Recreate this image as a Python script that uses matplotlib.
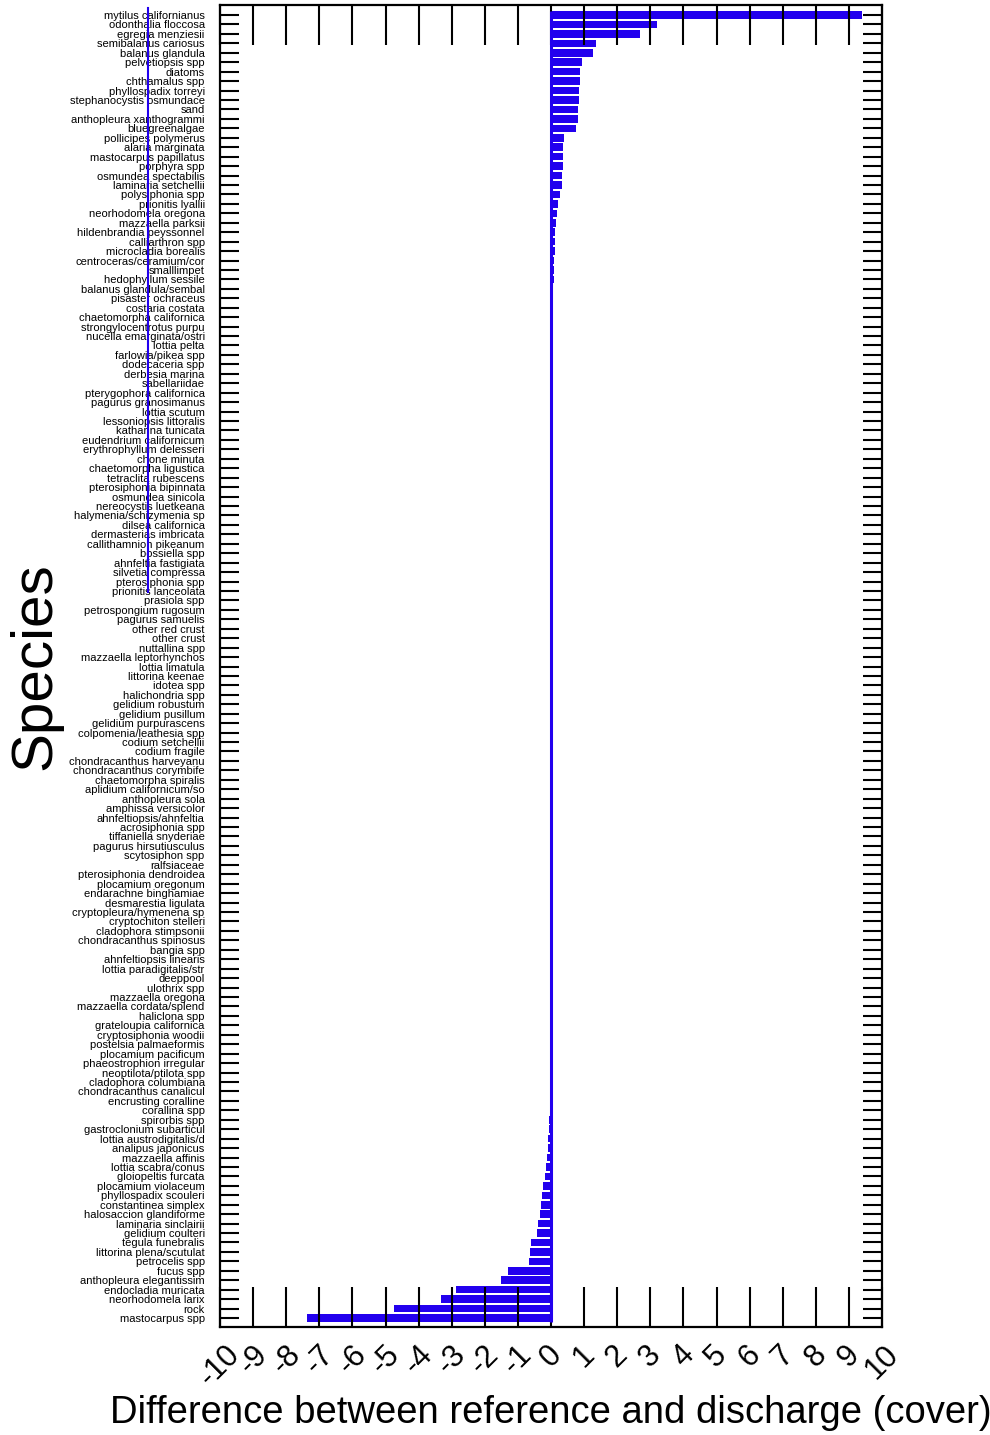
import numpy as np
import matplotlib
matplotlib.use("Agg")
import matplotlib.pyplot as plt
from matplotlib.lines import Line2D

species = [
    "mytilus californianus", "odonthalia floccosa", "egregia menziesii", "semibalanus cariosus",
    "balanus glandula", "pelvetiopsis spp", "diatoms", "chthamalus spp", "phyllospadix torreyi",
    "stephanocystis osmundace", "sand", "anthopleura xanthogrammi", "bluegreenalgae",
    "pollicipes polymerus", "alaria marginata", "mastocarpus papillatus", "porphyra spp",
    "osmundea spectabilis", "laminaria setchellii", "polysiphonia spp", "prionitis lyallii",
    "neorhodomela oregona", "mazzaella parksii", "hildenbrandia peyssonnel", "calliarthron spp",
    "microcladia borealis", "centroceras/ceramium/cor", "smalllimpet", "hedophyllum sessile",
    "balanus glandula/sembal", "pisaster ochraceus", "costaria costata", "chaetomorpha californica",
    "strongylocentrotus purpu", "nucella emarginata/ostri", "lottia pelta", "farlowia/pikea spp",
    "dodecaceria spp", "derbesia marina", "sabellariidae", "pterygophora californica",
    "pagurus granosimanus", "lottia scutum", "lessoniopsis littoralis", "katharina tunicata",
    "eudendrium californicum", "erythrophyllum delesseri", "chone minuta", "chaetomorpha ligustica",
    "tetraclita rubescens", "pterosiphonia bipinnata", "osmundea sinicola", "nereocystis luetkeana",
    "halymenia/schizymenia sp", "dilsea californica", "dermasterias imbricata",
    "callithamnion pikeanum", "bossiella spp", "ahnfeltia fastigiata", "silvetia compressa",
    "pterosiphonia spp", "prionitis lanceolata", "prasiola spp", "petrospongium rugosum",
    "pagurus samuelis", "other red crust", "other crust", "nuttallina spp",
    "mazzaella leptorhynchos", "lottia limatula", "littorina keenae", "idotea spp",
    "halichondria spp", "gelidium robustum", "gelidium pusillum", "gelidium purpurascens",
    "colpomenia/leathesia spp", "codium setchellii", "codium fragile", "chondracanthus harveyanu",
    "chondracanthus corymbife", "chaetomorpha spiralis", "aplidium californicum/so",
    "anthopleura sola", "amphissa versicolor", "ahnfeltiopsis/ahnfeltia", "acrosiphonia spp",
    "tiffaniella snyderiae", "pagurus hirsutiusculus", "scytosiphon spp", "ralfsiaceae",
    "pterosiphonia dendroidea", "plocamium oregonum", "endarachne binghamiae",
    "desmarestia ligulata", "cryptopleura/hymenena sp", "cryptochiton stelleri",
    "cladophora stimpsonii", "chondracanthus spinosus", "bangia spp", "ahnfeltiopsis linearis",
    "lottia paradigitalis/str", "deeppool", "ulothrix spp", "mazzaella oregona",
    "mazzaella cordata/splend", "haliclona spp", "grateloupia californica",
    "cryptosiphonia woodii", "postelsia palmaeformis", "plocamium pacificum",
    "phaeostrophion irregular", "neoptilota/ptilota spp", "cladophora columbiana",
    "chondracanthus canalicul", "encrusting coralline", "corallina spp", "spirorbis spp",
    "gastroclonium subarticul", "lottia austrodigitalis/d", "analipus japonicus",
    "mazzaella affinis", "lottia scabra/conus", "gloiopeltis furcata", "plocamium violaceum",
    "phyllospadix scouleri", "constantinea simplex", "halosaccion glandiforme",
    "laminaria sinclairii", "gelidium coulteri", "tegula funebralis", "littorina plena/scutulat",
    "petrocelis spp", "fucus spp", "anthopleura elegantissim", "endocladia muricata",
    "neorhodomela larix", "rock", "mastocarpus spp",
]

difference = [
    9.4, 3.2, 2.7, 1.35, 1.27, 0.94, 0.88, 0.87, 0.85, 0.84,
    0.82, 0.82, 0.75, 0.40, 0.37, 0.36, 0.35, 0.34, 0.33, 0.27,
    0.21, 0.18, 0.15, 0.13, 0.12, 0.11, 0.10, 0.09, 0.08, 0.07,
    0.07, 0.06, 0.06, 0.05, 0.05, 0.04, 0.04, 0.04, 0.03, 0.03,
    0.03, 0.03, 0.03, 0.02, 0.02, 0.02, 0.02, 0.02, 0.02, 0.02,
    0.02, 0.015, 0.015, 0.015, 0.015, 0.015, 0.01, 0.01, 0.01, 0.01,
    0.01, 0.01, 0.01, 0.01, 0.01, 0.01, 0.01, 0.01, 0.01, 0.01,
    0.01, 0.01, 0.008, 0.008, 0.008, 0.008, 0.008, 0.008, 0.006, 0.006,
    0.006, 0.006, 0.005, 0.005, 0.005, 0.005, 0.004, 0.004, 0.004, 0.004,
    0.003, 0.003, 0.003, 0.003, 0.002, 0.002, 0.002, 0.002, 0.001, 0.001,
    0.001, 0.0, 0.0, -0.001, -0.002,
    -0.003, -0.004, -0.005, -0.006, -0.008, -0.01, -0.012, -0.015, -0.02, -0.025,
    -0.03, -0.04, -0.05, -0.06, -0.08, -0.1, -0.12, -0.14,
    -0.18, -0.24, -0.27, -0.3, -0.33, -0.39, -0.42, -0.6,
    -0.63, -0.66, -1.3, -1.51, -2.87, -3.32, -4.74, -7.37,
]

xticks = list(range(-10, 11))
xticklabels = [str(t) for t in xticks]

BLUE = "#2200ee"


def plot(names, values):
    plt.rcParams['font.family'] = ['Liberation Sans', 'DejaVu Sans']
    fig = plt.figure(figsize=(9.9, 14.35), dpi=100)
    ax = fig.add_axes([220/990, 1 - 1327/1435, 662/990, 1322/1435])

    y = np.arange(len(names))
    ax.barh(y, values, height=0.8, color=BLUE, linewidth=0)
    ax.vlines(0, -0.4, len(names) - 0.6, color=BLUE, linewidth=2.2)

    ax.set_xlim(-10, 10)
    ax.set_ylim(len(names) - 1 + 0.95, -1.06)

    ax.set_xticks(xticks)
    ax.set_xticklabels(xticklabels, rotation=45, ha='center', va='top',
                       rotation_mode='default', fontsize=22)
    ax.set_yticks(y)
    ax.set_yticklabels(names, fontsize=8)

    ax.tick_params(axis='x', direction='in', top=True, bottom=True,
                   length=29, width=1.5, pad=9)
    ax.tick_params(axis='y', direction='in', left=True, right=True,
                   length=14, width=1.5, pad=11)
    for s in ax.spines.values():
        s.set_linewidth(1.6)

    # stray blue line running through the labels
    fig.add_artist(Line2D([148/990, 148/990], [1 - 8/1435, 1 - 592/1435],
                          color=BLUE, linewidth=1.5))

    fig.text(551/990, 1 - 1413/1435, "Difference between reference and discharge (cover)",
             ha='center', va='center', fontsize=27.5)
    fig.text(35/990, 1 - 666/1435, "Species", rotation=90,
             ha='center', va='center', fontsize=42)

    fig.savefig("out.png", dpi=100)


def main():
    assert len(species) == len(difference)
    plot(species, difference)


if __name__ == "__main__":
    main()
